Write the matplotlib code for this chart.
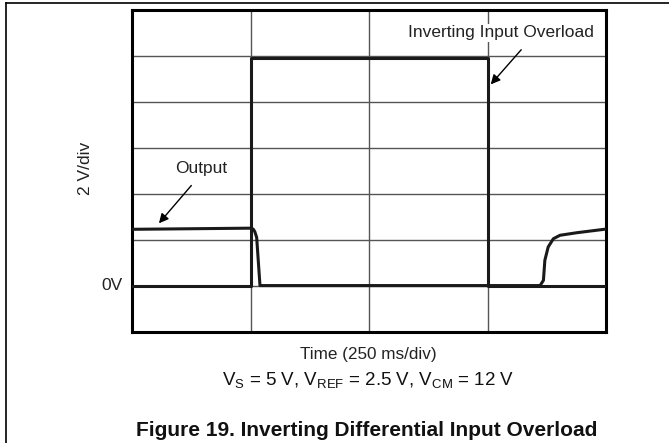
import matplotlib
matplotlib.use("Agg")
import matplotlib.pyplot as plt
from matplotlib.lines import Line2D

plt.rcParams['font.family'] = ['Liberation Sans', 'DejaVu Sans']
plt.rcParams['mathtext.default'] = 'regular'

# time in ms (250 ms/div), voltage in V (2 V/div)
input_t = [0, 250, 250, 750, 750, 1000]
input_v = [0, 0, 9.9, 9.9, 0, 0]

output_t = [0, 252, 256, 259, 263, 270, 861, 868, 871, 878, 889, 903, 938, 1000]
output_v = [2.45, 2.5, 2.45, 2.35, 2.1, 0, 0, 0.23, 1.1, 1.68, 2.04, 2.19, 2.3, 2.46]

x_ticks = [0, 250, 500, 750, 1000]
y_ticks = [-2, 0, 2, 4, 6, 8, 10, 12]

fig = plt.figure(figsize=(6.69, 4.43), dpi=100)
ax = fig.add_axes([132 / 669, (443 - 331.5) / 443, (606 - 132) / 669, (331.5 - 10) / 443])

# scope graticule
for xt in x_ticks:
    ax.axvline(xt, color='#555555', lw=1.0, zorder=1)
for yt in y_ticks:
    ax.axhline(yt, color='#555555', lw=1.0, zorder=1)

ax.plot(input_t, input_v, color='#1a1a1a', lw=2.2, zorder=3)
ax.plot(output_t, output_v, color='#1a1a1a', lw=2.2, zorder=3)

ax.set_xlim(0, 1000)
ax.set_ylim(-2, 12)
ax.set_xticks([])
ax.set_yticks([])
for s in ax.spines.values():
    s.set_linewidth(2.2)
    s.set_color('black')

# labels inside the plot
ax.text(778, 11.0, 'Inverting Input Overload', ha='center', va='center', fontsize=12.5,
        color='#222222', bbox=dict(facecolor='white', edgecolor='none', pad=1), zorder=4)
ax.annotate('', xy=(753, 8.67), xytext=(825, 10.36),
            arrowprops=dict(arrowstyle='-|>', color='black', lw=1.0, mutation_scale=14), zorder=5)

ax.text(146, 5.1, 'Output', ha='center', va='center', fontsize=12.5, color='#222222',
        bbox=dict(facecolor='white', edgecolor='none', pad=1), zorder=4)
ax.annotate('', xy=(53, 2.62), xytext=(129, 4.45),
            arrowprops=dict(arrowstyle='-|>', color='black', lw=1.0, mutation_scale=14), zorder=5)

# axis annotations
fig.text(85 / 669, 1 - 168 / 443, '2 V/div', rotation=90, ha='center', va='center',
         fontsize=12.5, color='#222222')
fig.text(123 / 669, 1 - 285 / 443, '0V', ha='right', va='center', fontsize=12.5, color='#222222')
fig.text(368 / 669, 1 - 354 / 443, 'Time (250 ms/div)', ha='center', va='center',
         fontsize=12.3, color='#222222')
fig.text(368 / 669, 1 - 380 / 443, r'V$_{S}$ = 5 V, V$_{REF}$ = 2.5 V, V$_{CM}$ = 12 V',
         ha='center', va='center', fontsize=13.5, color='#111111')
fig.text(367 / 669, 1 - 430 / 443, 'Figure 19. Inverting Differential Input Overload',
         ha='center', va='center', fontsize=15, fontweight='bold', color='#111111')

# page frame (top and left edges)
fig.add_artist(Line2D([6 / 669, 1], [1 - 3 / 443, 1 - 3 / 443], color='black', lw=1.2,
                      transform=fig.transFigure))
fig.add_artist(Line2D([6 / 669, 6 / 669], [0, 1 - 3 / 443], color='black', lw=1.2,
                      transform=fig.transFigure))

fig.savefig('out.png', dpi=100)
